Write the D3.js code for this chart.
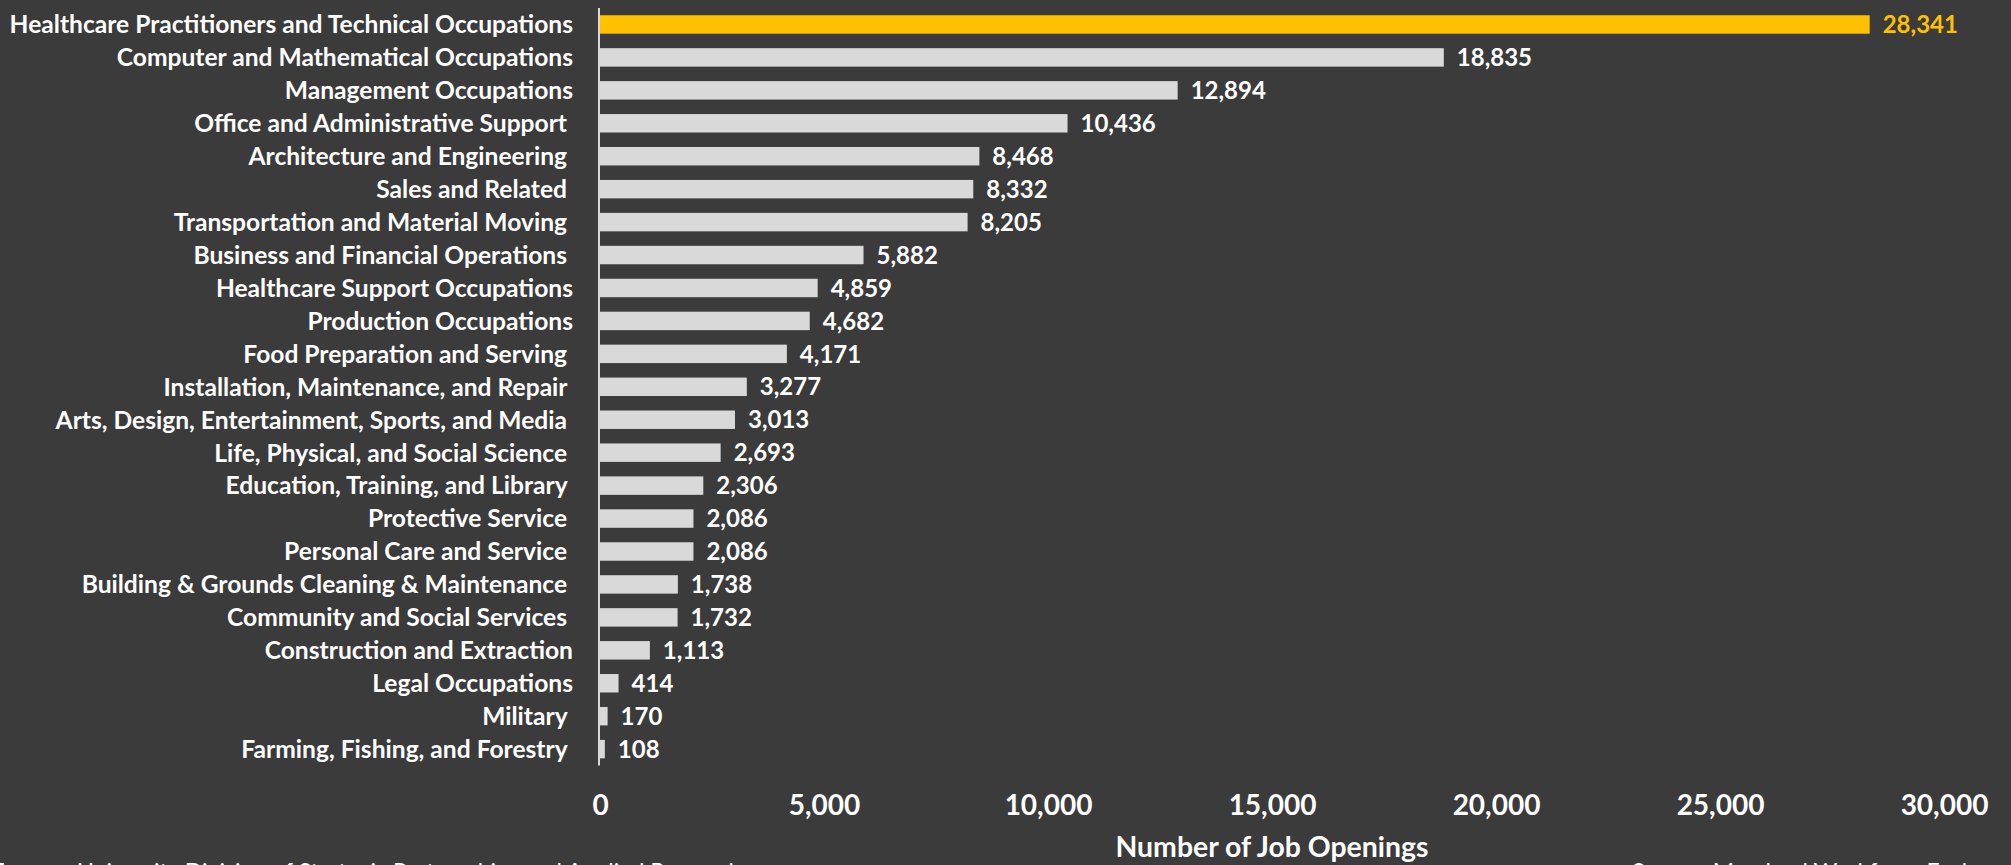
<!DOCTYPE html>
<html>
<head>
<meta charset="utf-8">
<script src="https://cdn.jsdelivr.net/npm/d3@7"></script>
<style>
  html, body { margin: 0; padding: 0; background: #3b3b3b; overflow: hidden; }
  svg { display: block; }
  text { font-family: Lato, "Open Sans", sans-serif; }
</style>
</head>
<body>
<svg id="chart" width="2011" height="865"></svg>
<script>
const categories = [
  "Healthcare Practitioners and Technical Occupations",
  "Computer and Mathematical Occupations",
  "Management Occupations",
  "Office and Administrative Support ",
  "Architecture and Engineering ",
  "Sales and Related ",
  "Transportation and Material Moving ",
  "Business and Financial Operations ",
  "Healthcare Support Occupations",
  "Production Occupations",
  "Food Preparation and Serving ",
  "Installation, Maintenance, and Repair ",
  "Arts, Design, Entertainment, Sports, and Media ",
  "Life, Physical, and Social Science ",
  "Education, Training, and Library ",
  "Protective Service ",
  "Personal Care and Service ",
  "Building & Grounds Cleaning & Maintenance ",
  "Community and Social Services ",
  "Construction and Extraction",
  "Legal Occupations",
  "Military ",
  "Farming, Fishing, and Forestry "
];
const jobOpenings = [28341, 18835, 12894, 10436, 8468, 8332, 8205, 5882, 4859, 4682, 4171, 3277, 3013, 2693, 2306, 2086, 2086, 1738, 1732, 1113, 414, 170, 108];
const highlighted = ["Healthcare Practitioners and Technical Occupations"];
const xTicks = [0, 5000, 10000, 15000, 20000, 25000, 30000];
const xTitle = "Number of Job Openings";
const sourceLeftPrefix = "Source: Towson";
const sourceLeft = "University Division of Strategic Partnerships and Applied Research";
const sourceRight = "Source: Maryland Workforce Exchange";

const svg = d3.select("#chart");
const W = 2011, H = 865;
svg.append("rect").attr("width", W).attr("height", H).attr("fill", "#3b3b3b");

const x = d3.scaleLinear().domain([0, 30000]).range([600, 1944]);
const y = d3.scaleBand().domain(categories).range([8, 765.6]).paddingInner(0.44).paddingOuter(0.22);

const fmt = d3.format(",");

// bars
svg.append("g").selectAll("rect").data(categories).join("rect")
  .attr("x", x(0))
  .attr("y", d => y(d))
  .attr("width", (d, i) => x(jobOpenings[i]) - x(0))
  .attr("height", y.bandwidth())
  .attr("fill", d => highlighted.includes(d) ? "#ffc000" : "#d9d9d9");

// y axis line
svg.append("line")
  .attr("x1", 599).attr("x2", 599)
  .attr("y1", 8).attr("y2", 765.6)
  .attr("stroke", "#d9d9d9").attr("stroke-width", 2);

// category labels
svg.append("g").selectAll("text").data(categories).join("text")
  .attr("x", 573)
  .attr("y", d => y(d) + y.bandwidth() / 2)
  .attr("dy", "0.36em")
  .attr("text-anchor", "end")
  .style("white-space", "pre")
  .attr("font-weight", "bold")
  .attr("font-size", 24.6)
  .attr("fill", "#ffffff")
  .text(d => d);

// value labels
svg.append("g").selectAll("text").data(categories).join("text")
  .attr("x", (d, i) => x(jobOpenings[i]) + 13)
  .attr("y", d => y(d) + y.bandwidth() / 2)
  .attr("dy", "0.36em")
  .attr("font-weight", "bold")
  .attr("font-size", 24)
  .attr("fill", d => highlighted.includes(d) ? "#ffc000" : "#ffffff")
  .text((d, i) => fmt(jobOpenings[i]));

// x axis tick labels
const xAxis = d3.axisBottom(x).tickValues(xTicks).tickFormat(fmt).tickSize(0).tickPadding(0);
const gx = svg.append("g").attr("transform", "translate(0,815)").call(xAxis);
gx.select(".domain").remove();
gx.selectAll("text")
  .attr("dy", 0).attr("y", 0)
  .attr("font-family", "Lato, sans-serif")
  .attr("font-weight", "bold")
  .attr("font-size", 28)
  .attr("fill", "#ffffff");

// x axis title
svg.append("text")
  .attr("x", (x(0) + x(30000)) / 2)
  .attr("y", 857)
  .attr("text-anchor", "middle")
  .attr("font-weight", "bold")
  .attr("font-size", 28.4)
  .attr("fill", "#ffffff")
  .text(xTitle);

// sources (cut off at bottom edge, as in the reference)
svg.append("text")
  .attr("x", 77).attr("y", 880)
  .attr("font-family", "'Open Sans', sans-serif")
  .attr("font-size", 23)
  .attr("fill", "#ffffff")
  .text(sourceLeft);
svg.append("text")
  .attr("x", 68).attr("y", 880)
  .attr("text-anchor", "end")
  .attr("font-family", "'Open Sans', sans-serif")
  .attr("font-size", 23)
  .attr("fill", "#ffffff")
  .text(sourceLeftPrefix);
svg.append("text")
  .attr("x", 1632).attr("y", 880)
  .attr("font-family", "'Open Sans', sans-serif")
  .attr("font-size", 23)
  .attr("fill", "#ffffff")
  .text(sourceRight);
</script>
</body>
</html>
